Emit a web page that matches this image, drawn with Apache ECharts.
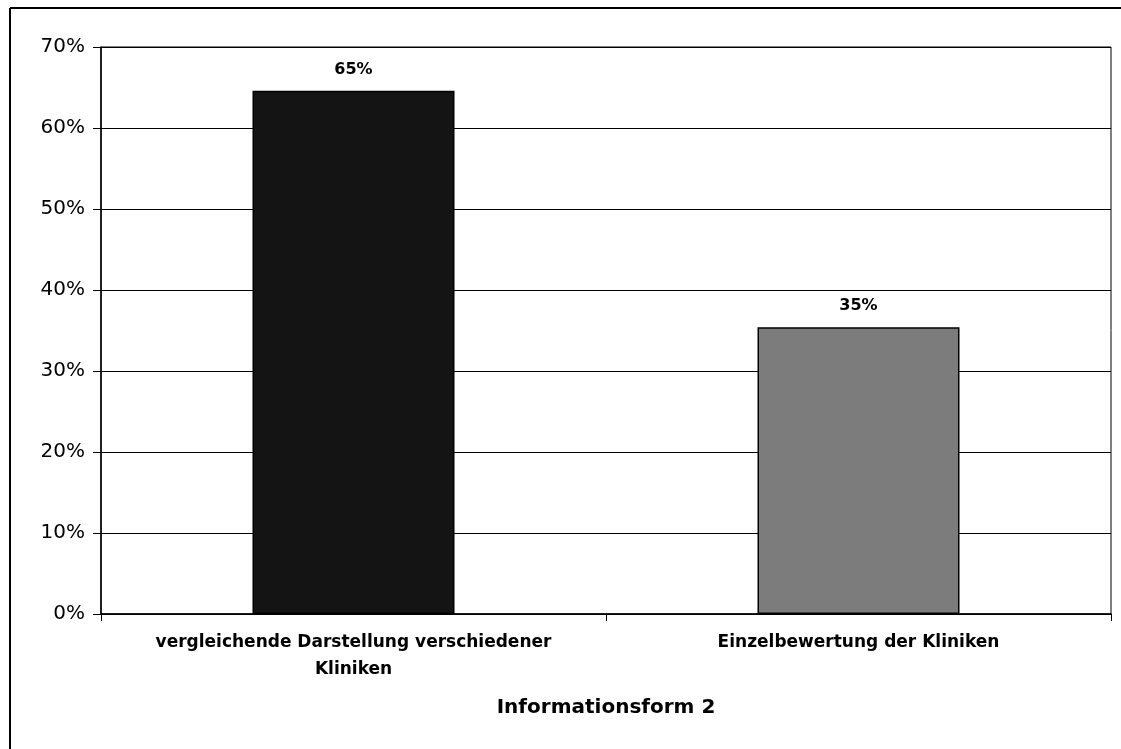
<!DOCTYPE html>
<html>
<head>
<meta charset="utf-8">
<script src="https://cdn.jsdelivr.net/npm/echarts@6/dist/echarts.min.js"></script>
<style>
  html, body { margin: 0; padding: 0; background: #fff; }
  #chart { width: 1121px; height: 749px; }
</style>
</head>
<body>
<div id="chart"></div>
<script>
// Kategorien und Werte (in %)
var categories = ["vergleichende Darstellung verschiedener\nKliniken", "Einzelbewertung der Kliniken"];
var values = [64.6, 35.4];
var barColors = ["#141414", "#7c7c7c"];
var axisTitle = "Informationsform 2";

var chart = echarts.init(document.getElementById("chart"));

chart.setOption({
  backgroundColor: "#fff",
  animation: false,
  grid: {
    left: 101,
    right: 10,
    top: 47,
    bottom: 135,
    show: true,
    borderColor: "#000",
    borderWidth: 1
  },
  // äußerer Rahmen (links + oben)
  graphic: [
    { type: "line", shape: { x1: 10, y1: 8, x2: 10, y2: 749 }, style: { stroke: "#000", lineWidth: 2 } },
    { type: "line", shape: { x1: 10, y1: 8, x2: 1121, y2: 8 }, style: { stroke: "#000", lineWidth: 2 } }
  ],
  xAxis: {
    type: "category",
    data: categories,
    name: axisTitle,
    nameLocation: "middle",
    nameGap: 84,
    nameTextStyle: { fontFamily: "DejaVu Sans", fontWeight: "bold", fontSize: 20, color: "#000" },
    axisLine: { lineStyle: { color: "#000", width: 1.5 } },
    axisTick: { show: true, length: 7, lineStyle: { color: "#000" } },
    axisLabel: {
      interval: 0,
      margin: 15,
      fontFamily: "DejaVu Sans",
      fontWeight: "bold",
      fontSize: 17,
      lineHeight: 27,
      color: "#000"
    }
  },
  yAxis: {
    type: "value",
    min: 0,
    max: 70,
    interval: 10,
    axisLine: { show: true, lineStyle: { color: "#000", width: 1.5 } },
    axisTick: { show: true, length: 8, lineStyle: { color: "#000" } },
    splitLine: { lineStyle: { color: "#000", width: 1 } },
    axisLabel: {
      margin: 16,
      fontFamily: "DejaVu Sans",
      fontSize: 20,
      color: "#000",
      formatter: "{value}%"
    }
  },
  series: [
    {
      type: "bar",
      barWidth: "40%",
      data: values.map(function (v, i) {
        return { value: v, itemStyle: { color: barColors[i] } };
      }),
      itemStyle: { borderColor: "#000", borderWidth: 1.5 },
      label: {
        show: true,
        position: "top",
        distance: 13,
        fontFamily: "DejaVu Sans",
        fontWeight: "bold",
        fontSize: 16,
        color: "#000",
        formatter: function (p) { return Math.round(p.value) + "%"; }
      }
    }
  ]
});
</script>
</body>
</html>
